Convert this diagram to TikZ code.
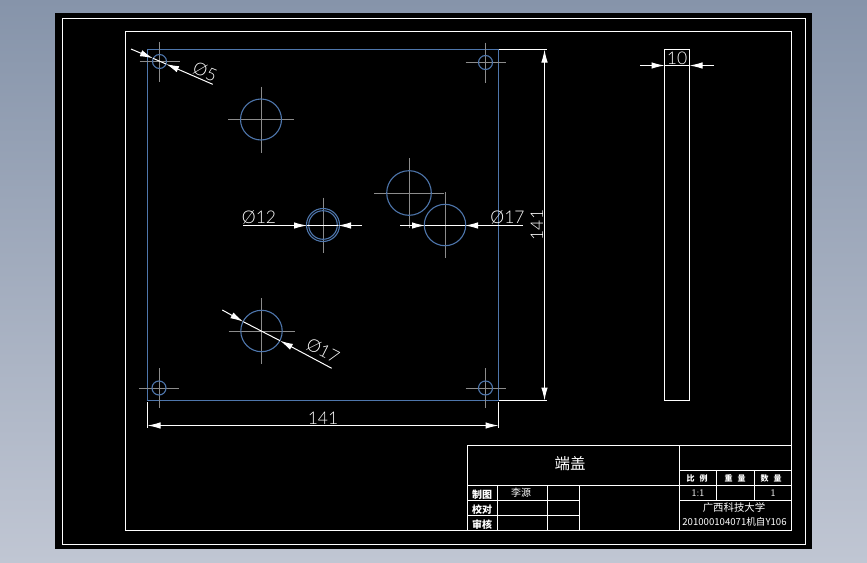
\documentclass[tikz,border=0pt]{standalone}
\usepackage{fontspec}
\newfontfamily\cjk{Noto Sans CJK SC}
\newfontfamily\dimfont{Lato Light}
\usetikzlibrary{arrows.meta}
\definecolor{cadtop}{RGB}{134,148,170}
\definecolor{cadbottom}{RGB}{192,198,211}
\definecolor{cadblue}{RGB}{78,118,172}
\definecolor{cadgray}{RGB}{140,140,140}
\tikzset{
	edgeline/.style={cadblue, line width=1.1pt},
	centerline/.style={cadgray, line width=1pt},
	whiteline/.style={white, line width=1pt},
	dimline/.style={white, line width=1pt},
	dimarrow/.style={dimline, -{Latex[length=13pt, width=6.5pt]}},
	dimtext/.style={white, inner sep=0pt, font=\dimfont\fontsize{17.5}{17.5}\selectfont},
	cjktext/.style={white, inner sep=0pt, font=\cjk\fontsize{9}{9}\selectfont},
	cjkbold/.style={white, inner sep=0pt, font=\cjk\bfseries\fontsize{10}{10}\selectfont},
	smalltext/.style={white, inner sep=0pt, font=\sffamily\fontsize{10}{10}\selectfont}
}
\begin{document}
\begin{tikzpicture}[x=1pt, y=-1pt]
	\useasboundingbox (0,0) rectangle (867,562);
	%screen and sheet
	\shade[top color=cadtop, bottom color=cadbottom] (0,0) rectangle (867,562);
	\fill[black] (55,13) rectangle (812,549);
	\draw[whiteline] (62.5,18.5) rectangle (805.5,544.5);
	\draw[whiteline] (125.5,31.5) rectangle (791,530);

	%plate outline
	\draw[edgeline] (147.5,49.5) rectangle (498.5,400.5);

	%corner holes
	\foreach \x/\y in {159.5/61.5, 485.5/62.5, 159/388, 485.5/388}{
		\draw[centerline] (\x-20, \y)--(\x+20, \y);
		\draw[centerline] (\x, \y-20)--(\x, \y+20);
		\draw[edgeline] (\x, \y) circle (7);
	}

	%large holes
	\foreach \x/\y/\r/\l in {261/119.5/20.5/33, 323/225/16.5/27.5, 409/193/22.3/35, 445/225/20.7/33, 261.5/331/20.7/33}{
		\draw[centerline] (\x-\l, \y)--(\x+\l, \y);
		\draw[centerline] (\x, \y-\l)--(\x, \y+\l);
		\draw[edgeline] (\x, \y) circle (\r);
	}
	\draw[edgeline] (323,225) circle (14.3);

	%diameter 5
	\draw[dimline] (153,58.3)--(166,64);
	\draw[dimarrow] (131,49)--(153,58.3);
	\draw[dimarrow] (212.7,84.3)--(166,64);
	\node[dimtext, rotate=-23] (dia5) at (205,72){\O5};

	%diameter 12
	\draw[dimline] (307,225.5)--(338,225.5);
	\draw[dimarrow] (243,225.5)--(307,225.5);
	\draw[dimarrow] (362,225.5)--(338,225.5);
	\node[dimtext] (dia12) at (259,217){\O12};

	%diameter 17 right
	\draw[dimline] (425,225.5)--(465,225.5);
	\draw[dimarrow] (400,225.5)--(425,225.5);
	\draw[dimarrow] (523,225.5)--(465,225.5);
	\node[dimtext] (dia17r) at (507.5,217){\O17};

	%diameter 17 lower
	\draw[dimline] (243.3,321.7)--(280,340.7);
	\draw[dimarrow] (222.3,310)--(243.3,321.7);
	\draw[dimarrow] (331.7,368.3)--(280,340.7);
	\node[dimtext, rotate=-27] (dia17l) at (323,351){\O17};

	%width 141
	\draw[whiteline] (147.5,402)--(147.5,428);
	\draw[whiteline] (498.5,402)--(498.5,428);
	\draw[dimarrow] (323,425.5)--(147.5,425.5);
	\draw[dimarrow] (323,425.5)--(498.5,425.5);
	\node[dimtext] (wid) at (323,418){141};

	%height 141
	\draw[whiteline] (499,49.5)--(547,49.5);
	\draw[whiteline] (499,400.5)--(547,400.5);
	\draw[dimarrow] (544.5,225)--(544.5,49.5);
	\draw[dimarrow] (544.5,225)--(544.5,400.5);
	\node[dimtext, rotate=90] (hgt) at (537,225){141};

	%side view
	\draw[whiteline] (664.5,49.5) rectangle (689.5,400.5);
	\draw[whiteline] (664.5,65.5)--(689.5,65.5);
	\draw[dimarrow] (640,65.5)--(664.5,65.5);
	\draw[dimarrow] (714,65.5)--(689.5,65.5);
	\node[dimtext] (thk) at (677,58){10};

	%title block
	\draw[whiteline] (467.5,530)--(467.5,445.5)--(791,445.5);
	\draw[whiteline] (467.5,485.5)--(791,485.5);
	\draw[whiteline] (679.5,470.5)--(791,470.5);
	\draw[whiteline] (679.5,445.5)--(679.5,530);
	\draw[whiteline] (679.5,500.5)--(791,500.5);
	\foreach \y in {500.5, 515.5}{
		\draw[whiteline] (467.5,\y)--(579.5,\y);
	}
	\foreach \x in {497.5, 547.5, 579.5}{
		\draw[whiteline] (\x,485.5)--(\x,530);
	}
	\foreach \x in {716.5, 754.5}{
		\draw[whiteline] (\x,470.5)--(\x,500.5);
	}

	\node[cjktext, font=\cjk\fontsize{15.5}{15.5}\selectfont] (title) at (570,464){端盖};
	\node[cjkbold] (drawn) at (482,495){制图};
	\node[cjkbold] (checked) at (482,510){校对};
	\node[cjkbold] (audit) at (482,525){审核};
	\node[cjktext, font=\cjk\fontsize{10}{10}\selectfont] (name) at (521,492.5){李源};
	\node[cjkbold, font=\cjk\bfseries\fontsize{8}{8}\selectfont] (ratio) at (697,478){比\hspace{5pt}例};
	\node[cjkbold, font=\cjk\bfseries\fontsize{8}{8}\selectfont] (weight) at (735,478){重\hspace{5pt}量};
	\node[cjkbold, font=\cjk\bfseries\fontsize{8}{8}\selectfont] (count) at (771,478){数\hspace{5pt}量};
	\node[smalltext] (scale) at (698,493){1:1};
	\node[smalltext] (num) at (773,493){1};
	\node[cjktext, font=\cjk\fontsize{10.4}{10.4}\selectfont] (school) at (734,508){广西科技大学};
	\node[cjktext, font=\cjk\fontsize{9.6}{9.6}\selectfont] (class) at (734.5,521.7){201000104071机自Y106};
\end{tikzpicture}
\end{document}
